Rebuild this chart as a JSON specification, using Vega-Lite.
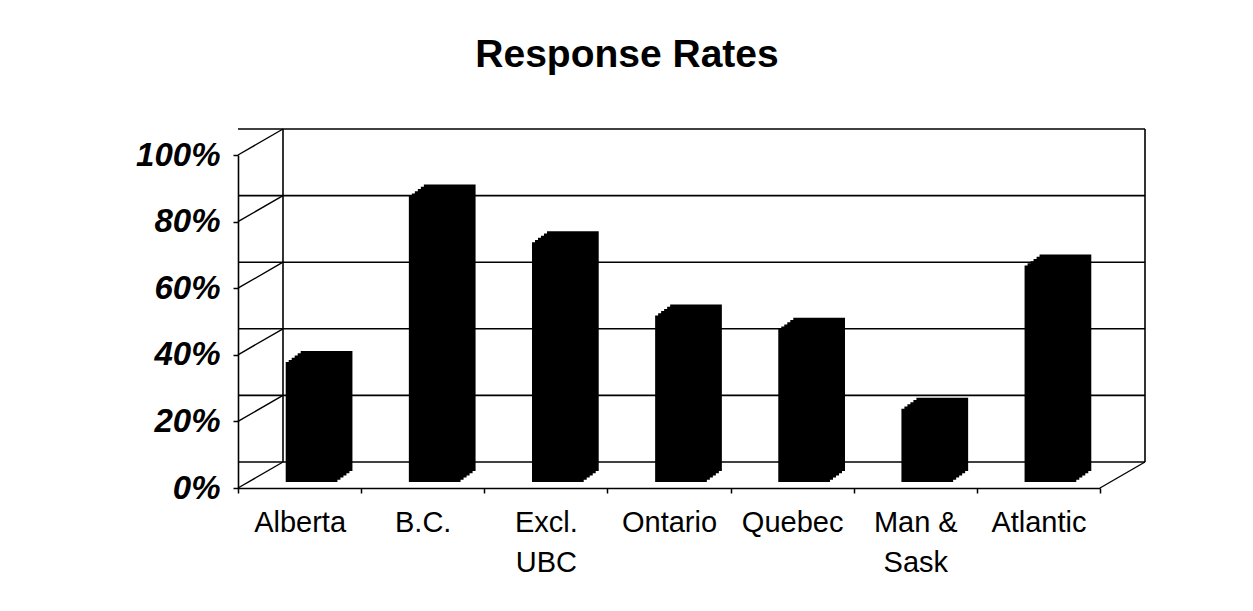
{
  "$schema": "https://vega.github.io/schema/vega-lite/v6.json",
  "autosize": {"type": "none"},
  "width": 862,
  "height": 333,
  "padding": {"left": 238, "top": 155, "right": 153, "bottom": 123},
  "background": "white",
  "config": {"view": {"stroke": null}},
  "title": {
    "text": "Response Rates",
    "font": "Liberation Sans",
    "fontSize": 39,
    "fontWeight": "bold",
    "color": "black",
    "anchor": "middle",
    "frame": "group",
    "baseline": "alphabetic",
    "offset": 22,
    "dx": -42
  },
  "datasets": {
    "rates": [
      {"region": "Alberta", "rate": 0.36},
      {"region": "B.C.", "rate": 0.86},
      {"region": "Excl. UBC", "rate": 0.72},
      {"region": "Ontario", "rate": 0.50},
      {"region": "Quebec", "rate": 0.46},
      {"region": "Man & Sask", "rate": 0.22},
      {"region": "Atlantic", "rate": 0.65}
    ],
    "grid": [
      {"level": 0}, {"level": 0.2}, {"level": 0.4}, {"level": 0.6}, {"level": 0.8}, {"level": 1}
    ]
  },
  "layer": [
    {
      "data": {"name": "grid"},
      "mark": {"type": "rule", "color": "black", "strokeWidth": 1.6, "xOffset": 45, "yOffset": -26},
      "encoding": {
        "y": {"field": "level", "type": "quantitative", "scale": {"domain": [0, 1]}}
      }
    },
    {
      "data": {"name": "grid"},
      "mark": {"type": "rule", "color": "black", "strokeWidth": 1.4, "x2Offset": 45, "y2Offset": -26},
      "encoding": {
        "x": {"datum": "Alberta", "type": "nominal", "bandPosition": 0},
        "x2": {"datum": "Alberta", "bandPosition": 0},
        "y": {"field": "level", "type": "quantitative"},
        "y2": {"field": "level"}
      }
    },
    {
      "data": {"name": "grid"},
      "transform": [{"filter": "datum.level == 0"}],
      "mark": {"type": "rule", "color": "black", "strokeWidth": 1.4, "x2Offset": 45, "y2Offset": -26},
      "encoding": {
        "x": {"datum": "Atlantic", "type": "nominal", "bandPosition": 1},
        "x2": {"datum": "Atlantic", "bandPosition": 1},
        "y": {"field": "level", "type": "quantitative"},
        "y2": {"field": "level"}
      }
    },
    {
      "data": {"name": "grid"},
      "transform": [{"filter": "datum.level == 0"}],
      "mark": {"type": "rule", "color": "black", "strokeWidth": 1.6, "xOffset": 45, "x2Offset": 45, "yOffset": -26, "y2Offset": -26},
      "encoding": {
        "x": {"datum": "Alberta", "type": "nominal", "bandPosition": 0},
        "y": {"datum": 0, "type": "quantitative"},
        "y2": {"datum": 1}
      }
    },
    {
      "data": {"name": "grid"},
      "transform": [{"filter": "datum.level == 0"}],
      "mark": {"type": "rule", "color": "black", "strokeWidth": 1.6, "xOffset": 45, "x2Offset": 45, "yOffset": -26, "y2Offset": -26},
      "encoding": {
        "x": {"datum": "Atlantic", "type": "nominal", "bandPosition": 1},
        "y": {"datum": 0, "type": "quantitative"},
        "y2": {"datum": 1}
      }
    },
    {
      "data": {"name": "rates"},
      "mark": {"type": "bar", "color": "black", "width": {"band": 0.42}, "xOffset": 27, "yOffset": -17},
      "encoding": {
        "x": {"field": "region", "type": "nominal"},
        "y": {"field": "rate", "type": "quantitative"}
      }
    },
    {
      "data": {"name": "rates"},
      "mark": {"type": "bar", "color": "black", "width": {"band": 0.42}, "xOffset": 24, "yOffset": -14.8},
      "encoding": {
        "x": {"field": "region", "type": "nominal"},
        "y": {"field": "rate", "type": "quantitative"}
      }
    },
    {
      "data": {"name": "rates"},
      "mark": {"type": "bar", "color": "black", "width": {"band": 0.42}, "xOffset": 21, "yOffset": -12.6},
      "encoding": {
        "x": {"field": "region", "type": "nominal"},
        "y": {"field": "rate", "type": "quantitative"}
      }
    },
    {
      "data": {"name": "rates"},
      "mark": {"type": "bar", "color": "black", "width": {"band": 0.42}, "xOffset": 18, "yOffset": -10.4},
      "encoding": {
        "x": {"field": "region", "type": "nominal"},
        "y": {"field": "rate", "type": "quantitative"}
      }
    },
    {
      "data": {"name": "rates"},
      "mark": {"type": "bar", "color": "black", "width": {"band": 0.42}, "xOffset": 15, "yOffset": -8.2},
      "encoding": {
        "x": {"field": "region", "type": "nominal"},
        "y": {"field": "rate", "type": "quantitative"}
      }
    },
    {
      "data": {"name": "rates"},
      "mark": {"type": "bar", "color": "black", "width": {"band": 0.42}, "xOffset": 12, "yOffset": -6},
      "encoding": {
        "x": {
          "field": "region",
          "type": "nominal",
          "sort": null,
          "scale": {
            "domain": ["Alberta", "B.C.", "Excl. UBC", "Ontario", "Quebec", "Man & Sask", "Atlantic"],
            "paddingInner": 0,
            "paddingOuter": 0
          },
          "axis": {
            "title": null,
            "labelAngle": 0,
            "labelAlign": "center",
            "labelFont": "Liberation Sans",
            "labelFontSize": 29,
            "labelColor": "black",
            "labelPadding": 29,
            "labelLineHeight": 40,
            "labelOverlap": false,
            "labelExpr": "datum.label == 'Excl. UBC' ? ['Excl.', 'UBC'] : datum.label == 'Man & Sask' ? ['Man &', 'Sask'] : datum.label",
            "tickBand": "extent",
            "tickSize": 5,
            "tickColor": "black",
            "tickWidth": 1.5,
            "domainColor": "black",
            "domainWidth": 1.6
          }
        },
        "y": {
          "field": "rate",
          "type": "quantitative",
          "scale": {"domain": [0, 1]},
          "axis": {
            "title": null,
            "values": [0, 0.2, 0.4, 0.6, 0.8, 1],
            "format": ".0%",
            "grid": false,
            "labelFont": "Liberation Sans",
            "labelFontSize": 33,
            "labelFontWeight": "bold",
            "labelFontStyle": "italic",
            "labelColor": "black",
            "labelPadding": 13,
            "tickSize": 5,
            "tickColor": "black",
            "tickWidth": 1.5,
            "domainColor": "black",
            "domainWidth": 1.6
          }
        }
      }
    }
  ]
}
